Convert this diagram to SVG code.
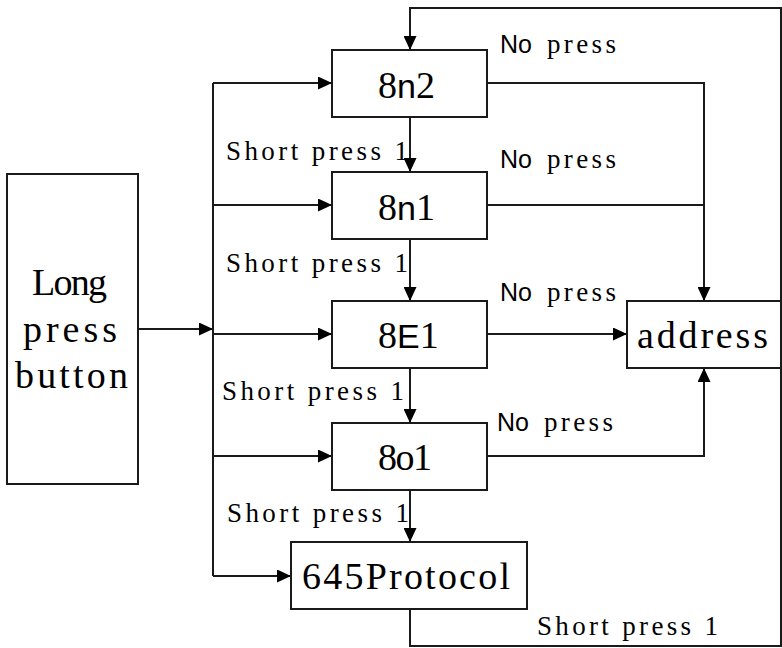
<svg xmlns="http://www.w3.org/2000/svg" width="782" height="648" viewBox="0 0 782 648">
<defs>
<marker id="arr" viewBox="0 0 14 13" markerWidth="14" markerHeight="13" refX="14" refY="6.5" orient="auto" markerUnits="userSpaceOnUse">
<path d="M0,0 L14,6.5 L0,13 Z" fill="#000"/>
</marker>
<style>
.box{fill:#fff;stroke:#1a1a1a;stroke-width:2}
.ln{fill:none;stroke:#1a1a1a;stroke-width:2}
.ar{marker-end:url(#arr)}
.big{font-family:"Liberation Serif",serif;font-size:38px;fill:#000}
.sans{font-family:"Liberation Sans",sans-serif}
.sm{font-family:"Liberation Serif",serif;font-size:27px;fill:#000}
.no{font-family:"Liberation Sans",sans-serif;font-size:25px;fill:#000}
</style>
</defs>
<rect width="782" height="648" fill="#fff"/>
<g id="connectors">
<polyline class="ln ar" points="410,609 410,646 781,646 781,8 410,8 410,50"/>
<line class="ln ar" x1="138" y1="329" x2="213" y2="329"/>
<line class="ln" x1="213" y1="83" x2="213" y2="576"/>
<line class="ln ar" x1="213" y1="83" x2="332" y2="83"/>
<line class="ln ar" x1="213" y1="205" x2="332" y2="205"/>
<line class="ln ar" x1="213" y1="334" x2="332" y2="334"/>
<line class="ln ar" x1="213" y1="456" x2="332" y2="456"/>
<line class="ln ar" x1="213" y1="576" x2="291" y2="576"/>
<line class="ln ar" x1="410" y1="117" x2="410" y2="172"/>
<line class="ln ar" x1="410" y1="239" x2="410" y2="301"/>
<line class="ln ar" x1="410" y1="368" x2="410" y2="423"/>
<line class="ln ar" x1="410" y1="490" x2="410" y2="542"/>
<polyline class="ln ar" points="487,83 704,83 704,301"/>
<line class="ln" x1="487" y1="205" x2="704" y2="205"/>
<line class="ln ar" x1="487" y1="334" x2="627" y2="334"/>
<polyline class="ln ar" points="487,456 704,456 704,368"/>
</g>
<g id="labels">
<text class="sm" x="226" y="160" textLength="182" lengthAdjust="spacing">Short press 1</text>
<text class="sm" x="226" y="272" textLength="182" lengthAdjust="spacing">Short press 1</text>
<text class="sm" x="222" y="400" textLength="182" lengthAdjust="spacing">Short press 1</text>
<text class="sm" x="227" y="522" textLength="182" lengthAdjust="spacing">Short press 1</text>
<text class="sm" x="537" y="635" textLength="181" lengthAdjust="spacing">Short press 1</text>
<text x="500" y="53"><tspan class="no">No</tspan><tspan class="sm" x="547" textLength="69" lengthAdjust="spacing">press</tspan></text>
<text x="500" y="168"><tspan class="no">No</tspan><tspan class="sm" x="547" textLength="69" lengthAdjust="spacing">press</tspan></text>
<text x="500" y="301"><tspan class="no">No</tspan><tspan class="sm" x="547" textLength="69" lengthAdjust="spacing">press</tspan></text>
<text x="497" y="431"><tspan class="no">No</tspan><tspan class="sm" x="544" textLength="69" lengthAdjust="spacing">press</tspan></text>
</g>
<g id="long-press-button">
<rect class="box" x="7" y="174" width="131" height="310"/>
<text class="big" x="32" y="295" textLength="75" lengthAdjust="spacing">Long</text>
<text class="big" x="23" y="342" textLength="94" lengthAdjust="spacing">press</text>
<text class="big" x="15" y="388" textLength="113" lengthAdjust="spacing">button</text>
</g>
<g id="node-8n2">
<rect class="box" x="332" y="50" width="155" height="67"/>
<text class="big" x="378" y="98">8<tspan class="sans" font-size="34">n</tspan>2</text>
</g>
<g id="node-8n1">
<rect class="box" x="332" y="172" width="155" height="67"/>
<text class="big" x="378" y="220">8<tspan class="sans" font-size="34">n</tspan>1</text>
</g>
<g id="node-8E1">
<rect class="box" x="332" y="301" width="155" height="67"/>
<text class="big" x="378" y="348">8<tspan class="sans" font-size="34">E</tspan>1</text>
</g>
<g id="node-8o1">
<rect class="box" x="332" y="423" width="155" height="67"/>
<text class="big" x="378" y="470" textLength="54" lengthAdjust="spacing">8o1</text>
</g>
<g id="node-645Protocol">
<rect class="box" x="291" y="542" width="236" height="67"/>
<text class="big" x="302" y="589" textLength="208" lengthAdjust="spacing">645Protocol</text>
</g>
<g id="node-address">
<rect class="box" x="627" y="301" width="154" height="67"/>
<text class="big" x="637" y="348" textLength="131" lengthAdjust="spacing">address</text>
</g>
</svg>
